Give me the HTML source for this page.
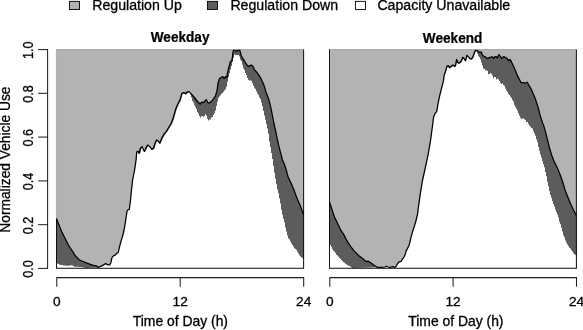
<!DOCTYPE html>
<html><head><meta charset="utf-8"><title>Normalized Vehicle Use</title>
<style>
html,body{margin:0;padding:0;background:#fff;}
body{width:583px;height:330px;overflow:hidden;}
svg{display:block;will-change:transform;filter:grayscale(1);}
text{font-family:"Liberation Sans",sans-serif;font-size:14.15px;fill:#000;stroke:#000;stroke-width:0.3px;}
.t{font-size:13.7px;}
.l{font-size:13.9px;}
.b{font-weight:bold;font-size:14.25px;stroke-width:0.25px;}
</style></head>
<body>
<svg width="583" height="330" viewBox="0 0 583 330">

<rect x="69.4" y="1.35" width="10.1" height="8.1" fill="#b3b3b3" stroke="#000" stroke-width="0.9"/>
<text x="92.2" y="10.4">Regulation Up</text>
<rect x="207.4" y="1.35" width="10.1" height="8.1" fill="#5c5c5c" stroke="#000" stroke-width="0.9"/>
<text x="230.4" y="10.4">Regulation Down</text>
<rect x="355.4" y="1.35" width="10.1" height="8.1" fill="#fff" stroke="#000" stroke-width="0.9"/>
<text x="377.4" y="10.4">Capacity Unavailable</text>

<text class="b" transform="translate(180.1,41.5) scale(0.955,1)" text-anchor="middle">Weekday</text>
<text class="b" transform="translate(452.6,42.6) scale(0.955,1)" text-anchor="middle">Weekend</text>
<rect x="56.5" y="49.4" width="247.1" height="218.9" fill="#b3b3b3"/>
<polygon fill="#5c5c5c" points="56.5,218.6 59.2,225.5 61.9,232.0 64.9,238.0 68.3,244.9 71.7,250.0 75.2,255.6 79.4,260.0 86.3,262.9 93.2,265.4 96.6,265.9 98.1,267.5 100.7,266.4 103.6,264.9 105.8,263.5 107.7,264.9 109.7,264.9 110.9,262.7 111.6,259.1 112.4,256.9 113.8,255.7 115.3,255.2 116.7,253.3 118.2,252.5 118.9,249.6 119.9,245.3 121.1,240.9 122.5,236.5 124.1,230.0 125.7,220.3 126.9,211.8 127.7,210.0 129.3,209.4 130.3,202.1 131.5,190.0 132.6,180.0 134.7,169.3 136.1,159.7 136.7,152.1 138.1,151.2 139.1,153.5 140.5,148.0 142.2,146.7 144.3,151.5 145.9,148.0 147.7,144.9 149.8,146.7 151.8,149.4 153.6,148.0 155.0,143.2 156.6,139.8 158.3,141.2 159.7,143.2 161.4,139.1 162.6,136.6 164.1,133.9 166.4,131.3 168.6,127.5 171.2,123.3 173.0,118.6 174.3,113.9 175.7,109.1 177.7,104.3 179.8,100.2 181.1,96.1 181.8,93.4 183.9,92.5 185.3,93.9 187.3,91.8 189.3,91.9 192.0,94.6 194.8,98.0 197.5,101.5 200.3,104.2 201.6,102.1 203.7,102.6 205.5,100.1 206.4,99.8 207.8,102.8 209.9,102.8 212.6,100.1 215.4,96.0 216.7,91.9 217.4,88.0 218.0,83.4 219.4,78.6 221.5,77.2 222.8,76.6 224.2,78.6 225.6,76.6 226.7,77.9 227.6,72.4 229.0,66.9 230.4,61.5 231.7,60.8 232.4,57.3 233.0,52.0 233.6,50.0 235.0,50.3 236.4,51.3 237.8,50.4 239.4,49.9 240.2,51.3 240.7,53.5 241.4,56.0 243.4,59.4 245.5,62.8 247.5,65.6 249.2,66.3 251.0,64.9 253.0,66.3 254.4,69.7 256.4,71.7 258.5,74.5 260.6,77.9 262.6,82.0 264.3,86.2 265.9,91.9 268.6,98.7 270.4,105.6 271.8,112.4 273.4,120.7 274.3,125.0 276.4,134.6 278.4,144.2 280.5,152.4 282.5,160.0 284.6,164.8 286.8,171.9 288.2,177.3 291.6,184.2 294.4,191.1 297.1,198.6 299.9,204.8 303.6,214.8 303.6,268.3 56.5,268.3"/>
<polygon fill="#fff" points="56.5,262.9 57.0,262.9 57.0,263.6 58.0,263.6 58.0,264.1 59.0,264.1 59.0,264.6 60.0,264.6 60.0,265.0 61.0,265.0 61.0,264.9 62.0,264.9 62.0,265.0 63.0,265.0 63.0,265.6 64.0,265.6 64.0,265.4 65.0,265.4 65.0,265.4 66.0,265.4 66.0,265.9 67.0,265.9 67.0,265.5 68.0,265.5 68.0,265.7 69.0,265.7 69.0,265.5 70.0,265.5 70.0,265.5 71.0,265.5 71.0,265.2 72.0,265.2 72.0,265.5 73.0,265.5 73.0,266.1 74.0,266.1 74.0,266.4 75.0,266.4 75.0,266.9 76.0,266.9 76.0,266.9 77.0,266.9 77.0,266.6 78.0,266.6 78.0,267.1 79.0,267.1 79.0,267.1 80.0,267.1 80.0,267.0 81.0,267.0 81.0,266.9 82.0,266.9 82.0,267.4 83.0,267.4 83.0,267.3 84.0,267.3 84.0,267.7 85.0,267.7 85.0,268.1 86.0,268.1 98.1,267.5 100.7,266.4 103.6,264.9 105.8,263.5 107.7,264.9 109.7,264.9 110.9,262.7 111.6,259.1 112.4,256.9 113.8,255.7 115.3,255.2 116.7,253.3 118.2,252.5 118.9,249.6 119.9,245.3 121.1,240.9 122.5,236.5 124.1,230.0 125.7,220.3 126.9,211.8 127.7,210.0 129.3,209.4 130.3,202.1 131.5,190.0 132.6,180.0 134.7,169.3 136.1,159.7 136.7,152.1 139.0,151.7 140.0,154.0 141.4,148.5 143.1,147.2 145.2,152.0 146.8,148.5 148.6,145.4 150.7,147.2 152.7,149.9 154.5,148.5 155.9,143.7 157.5,140.3 159.2,141.7 160.6,143.7 162.3,139.6 163.5,137.1 165.0,134.4 167.3,131.8 169.5,128.0 172.1,123.8 173.9,119.1 175.2,114.4 176.6,109.6 178.6,104.8 180.7,100.7 182.0,96.6 182.7,93.9 184.8,93.0 186.2,94.4 188.2,92.3 190.2,92.4 190.0,94.4 191.0,94.4 191.0,97.4 192.0,97.4 192.0,100.7 193.0,100.7 193.0,102.2 194.0,102.2 194.0,105.0 195.0,105.0 195.0,107.1 196.0,107.1 196.0,109.1 197.0,109.1 197.0,112.0 198.0,112.0 198.0,113.7 199.0,113.7 199.0,116.1 200.0,116.1 200.0,117.4 201.0,117.4 201.0,116.3 202.0,116.3 202.0,115.9 203.0,115.9 203.0,116.7 204.0,116.7 204.0,116.0 205.0,116.0 205.0,114.3 206.0,114.3 206.0,115.5 207.0,115.5 207.0,118.7 208.0,118.7 208.0,120.5 209.0,120.5 209.0,119.6 210.0,119.6 210.0,119.6 211.0,119.6 211.0,117.6 212.0,117.6 212.0,117.1 213.0,117.1 213.0,115.0 214.0,115.0 214.0,112.9 215.0,112.9 215.0,110.4 216.0,110.4 216.0,106.0 217.0,106.0 217.0,101.7 218.0,101.7 218.0,97.8 219.0,97.8 219.0,96.5 220.0,96.5 220.0,95.2 221.0,95.2 221.0,93.8 222.0,93.8 222.0,93.1 223.0,93.1 223.0,91.7 224.0,91.7 224.0,90.4 225.0,90.4 225.0,89.3 226.0,89.3 226.0,86.7 227.0,86.7 227.0,81.8 228.0,81.8 228.0,76.9 229.0,76.9 229.0,73.3 230.0,73.3 230.0,69.6 231.0,69.6 231.0,66.0 232.0,66.0 232.0,62.0 233.0,62.0 233.0,57.9 234.0,57.9 234.0,54.6 235.0,54.6 235.0,55.0 236.0,55.0 236.0,54.9 237.0,54.9 237.0,55.2 238.0,55.2 238.0,54.9 239.0,54.9 239.0,56.5 240.0,56.5 240.0,59.8 241.0,59.8 241.0,61.3 242.0,61.3 242.0,64.8 243.0,64.8 243.0,68.2 244.0,68.2 244.0,70.1 245.0,70.1 245.0,73.1 246.0,73.1 246.0,74.9 247.0,74.9 247.0,78.1 248.0,78.1 248.0,79.7 249.0,79.7 249.0,80.4 250.0,80.4 250.0,80.6 251.0,80.6 251.0,80.8 252.0,80.8 252.0,83.3 253.0,83.3 253.0,85.4 254.0,85.4 254.0,87.7 255.0,87.7 255.0,88.9 256.0,88.9 256.0,91.3 257.0,91.3 257.0,93.5 258.0,93.5 258.0,95.0 259.0,95.0 259.0,97.5 260.0,97.5 260.0,98.9 261.0,98.9 261.0,102.5 262.0,102.5 262.0,106.2 263.0,106.2 263.0,110.9 264.0,110.9 264.0,115.6 265.0,115.6 265.0,119.8 266.0,119.8 266.0,124.3 267.0,124.3 267.0,128.6 268.0,128.6 268.0,133.7 269.0,133.7 269.0,141.5 270.0,141.5 270.0,147.0 271.0,147.0 271.0,153.0 272.0,153.0 272.0,159.1 273.0,159.1 273.0,165.9 274.0,165.9 274.0,172.8 275.0,172.8 275.0,178.8 276.0,178.8 276.0,184.2 277.0,184.2 277.0,189.6 278.0,189.6 278.0,193.3 279.0,193.3 279.0,198.4 280.0,198.4 280.0,203.6 281.0,203.6 281.0,209.7 282.0,209.7 282.0,214.8 283.0,214.8 283.0,218.8 284.0,218.8 284.0,222.3 285.0,222.3 285.0,227.5 286.0,227.5 286.0,231.5 287.0,231.5 287.0,235.4 288.0,235.4 288.0,238.6 289.0,238.6 289.0,239.6 290.0,239.6 290.0,241.6 291.0,241.6 291.0,243.5 292.0,243.5 292.0,244.9 293.0,244.9 293.0,246.6 294.0,246.6 294.0,248.2 295.0,248.2 295.0,249.0 296.0,249.0 296.0,249.8 297.0,249.8 297.0,251.8 298.0,251.8 298.0,253.4 299.0,253.4 299.0,255.2 300.0,255.2 300.0,256.6 301.0,256.6 301.0,257.2 302.0,257.2 302.0,258.0 303.0,258.0 303.0,258.9 303.6,258.9 303.6,268.3 56.5,268.3"/>
<polyline fill="none" stroke="#000" stroke-width="1.25" stroke-linejoin="round" points="56.5,218.6 59.2,225.5 61.9,232.0 64.9,238.0 68.3,244.9 71.7,250.0 75.2,255.6 79.4,260.0 86.3,262.9 93.2,265.4 96.6,265.9 98.1,267.5 100.7,266.4 103.6,264.9 105.8,263.5 107.7,264.9 109.7,264.9 110.9,262.7 111.6,259.1 112.4,256.9 113.8,255.7 115.3,255.2 116.7,253.3 118.2,252.5 118.9,249.6 119.9,245.3 121.1,240.9 122.5,236.5 124.1,230.0 125.7,220.3 126.9,211.8 127.7,210.0 129.3,209.4 130.3,202.1 131.5,190.0 132.6,180.0 134.7,169.3 136.1,159.7 136.7,152.1 138.1,151.2 139.1,153.5 140.5,148.0 142.2,146.7 144.3,151.5 145.9,148.0 147.7,144.9 149.8,146.7 151.8,149.4 153.6,148.0 155.0,143.2 156.6,139.8 158.3,141.2 159.7,143.2 161.4,139.1 162.6,136.6 164.1,133.9 166.4,131.3 168.6,127.5 171.2,123.3 173.0,118.6 174.3,113.9 175.7,109.1 177.7,104.3 179.8,100.2 181.1,96.1 181.8,93.4 183.9,92.5 185.3,93.9 187.3,91.8 189.3,91.9 192.0,94.6 194.8,98.0 197.5,101.5 200.3,104.2 201.6,102.1 203.7,102.6 205.5,100.1 206.4,99.8 207.8,102.8 209.9,102.8 212.6,100.1 215.4,96.0 216.7,91.9 217.4,88.0 218.0,83.4 219.4,78.6 221.5,77.2 222.8,76.6 224.2,78.6 225.6,76.6 226.7,77.9 227.6,72.4 229.0,66.9 230.4,61.5 231.7,60.8 232.4,57.3 233.0,52.0 233.6,50.0 235.0,50.3 236.4,51.3 237.8,50.4 239.4,49.9 240.2,51.3 240.7,53.5 241.4,56.0 243.4,59.4 245.5,62.8 247.5,65.6 249.2,66.3 251.0,64.9 253.0,66.3 254.4,69.7 256.4,71.7 258.5,74.5 260.6,77.9 262.6,82.0 264.3,86.2 265.9,91.9 268.6,98.7 270.4,105.6 271.8,112.4 273.4,120.7 274.3,125.0 276.4,134.6 278.4,144.2 280.5,152.4 282.5,160.0 284.6,164.8 286.8,171.9 288.2,177.3 291.6,184.2 294.4,191.1 297.1,198.6 299.9,204.8 303.6,214.8"/>
<path d="M56.5,49.55 H303.6" fill="none" stroke="#8c8c8c" stroke-width="0.6"/>
<path d="M303.6,49.4 V268.3 H56.1" fill="none" stroke="#000" stroke-opacity="0.9" stroke-width="1.05"/>
<path d="M56.4,49.4 V218.6" fill="none" stroke="#8c8c8c" stroke-width="0.6"/>
<path d="M56.5,218.6 V268.3" fill="none" stroke="#000" stroke-opacity="0.9" stroke-width="1.0"/>
<rect x="329.5" y="49.4" width="246.9" height="218.9" fill="#b3b3b3"/>
<polygon fill="#5c5c5c" points="329.5,202.0 331.9,209.2 334.6,217.4 338.0,224.3 340.8,230.2 343.5,234.1 346.3,239.6 349.7,245.1 353.8,250.6 357.9,254.7 359.9,256.6 362.6,258.4 365.9,261.5 368.0,261.1 371.4,263.2 374.0,265.3 377.4,267.3 381.7,267.4 385.2,267.0 386.4,266.2 388.2,267.0 390.3,267.4 392.9,266.6 394.6,267.4 395.9,266.8 397.6,263.6 398.9,261.9 401.0,261.4 402.7,258.9 404.4,256.3 405.7,252.9 406.2,250.7 407.5,248.6 408.7,246.0 409.7,243.1 411.1,236.9 413.1,230.1 415.5,222.5 417.4,215.0 419.0,202.9 420.8,190.6 422.4,181.0 424.5,171.5 428.0,155.2 430.6,140.1 432.6,125.0 433.6,117.0 435.0,113.6 436.7,111.6 438.1,103.3 439.5,96.5 441.6,88.2 443.5,80.7 444.2,75.2 445.6,71.1 446.9,66.3 448.3,65.6 449.4,67.6 451.1,66.3 453.1,64.9 454.5,66.3 455.5,65.6 456.6,59.4 457.9,62.8 459.3,62.8 461.4,60.8 462.7,57.3 464.1,58.7 465.5,60.8 466.8,55.3 468.2,56.7 470.0,58.7 471.6,58.7 473.0,56.7 474.4,52.5 475.5,50.2 477.1,50.5 478.5,51.6 479.9,52.5 481.2,51.9 482.6,55.3 484.3,56.7 486.0,57.3 487.8,58.7 489.5,57.3 490.8,57.3 492.2,56.7 493.6,58.7 495.0,56.7 496.3,56.7 497.4,58.0 498.9,54.6 500.4,56.3 501.8,58.7 503.6,56.7 505.3,57.3 507.3,58.7 508.7,60.8 510.1,59.4 511.5,62.1 513.5,66.3 515.6,71.1 517.6,75.9 519.7,80.0 521.1,82.7 523.1,82.7 525.2,83.4 527.2,82.0 528.6,84.8 530.4,87.5 531.8,90.5 535.3,98.7 538.0,106.9 540.1,115.2 542.8,123.4 543.5,125.0 545.5,131.9 547.6,140.1 549.6,148.3 551.7,155.2 553.8,160.7 556.5,166.2 557.9,169.1 560.6,176.0 563.4,184.2 565.4,191.1 568.2,197.9 570.9,204.5 573.6,210.3 576.4,215.5 576.4,268.3 329.5,268.3"/>
<polygon fill="#fff" points="329.5,243.4 330.0,243.4 330.0,245.1 331.0,245.1 331.0,247.1 332.0,247.1 332.0,249.0 333.0,249.0 333.0,250.7 334.0,250.7 334.0,251.6 335.0,251.6 335.0,252.9 336.0,252.9 336.0,254.7 337.0,254.7 337.0,255.5 338.0,255.5 338.0,256.4 339.0,256.4 339.0,257.9 340.0,257.9 340.0,258.7 341.0,258.7 341.0,260.1 342.0,260.1 342.0,261.0 343.0,261.0 343.0,262.3 344.0,262.3 344.0,262.7 345.0,262.7 345.0,263.7 346.0,263.7 346.0,264.6 347.0,264.6 347.0,265.0 348.0,265.0 348.0,265.7 349.0,265.7 349.0,266.2 350.0,266.2 350.0,266.4 351.0,266.4 351.0,267.5 352.0,267.5 352.0,268.0 353.0,268.0 395.9,266.8 397.6,263.6 398.9,261.9 401.0,261.4 402.7,258.9 404.4,256.3 405.7,252.9 406.2,250.7 407.5,248.6 408.7,246.0 409.7,243.1 411.1,236.9 413.1,230.1 415.5,222.5 417.4,215.0 419.0,202.9 420.8,190.6 422.4,181.0 424.5,171.5 428.0,155.2 430.6,140.1 432.6,125.0 433.6,117.0 435.0,113.6 436.7,111.6 438.1,103.3 439.5,96.5 441.6,88.2 443.5,80.7 444.2,75.2 446.0,72.1 447.3,67.3 448.7,66.6 449.8,68.6 451.5,67.3 453.5,65.9 454.9,67.3 455.9,66.6 457.0,60.4 458.3,63.8 459.7,63.8 461.8,61.8 463.1,58.3 464.5,59.7 465.9,61.8 467.2,56.3 468.6,57.7 470.4,59.7 472.0,59.7 473.4,57.7 474.8,53.5 475.9,51.2 476.0,51.5 477.0,51.5 477.0,53.6 478.0,53.6 478.0,56.3 479.0,56.3 479.0,57.2 480.0,57.2 480.0,59.3 481.0,59.3 481.0,62.6 482.0,62.6 482.0,65.4 483.0,65.4 483.0,68.5 484.0,68.5 484.0,68.9 485.0,68.9 485.0,70.4 486.0,70.4 486.0,70.3 487.0,70.3 487.0,70.9 488.0,70.9 488.0,74.3 489.0,74.3 489.0,74.0 490.0,74.0 490.0,72.9 491.0,72.9 491.0,73.7 492.0,73.7 492.0,75.4 493.0,75.4 493.0,78.2 494.0,78.2 494.0,76.9 495.0,76.9 495.0,77.0 496.0,77.0 496.0,79.6 497.0,79.6 497.0,78.4 498.0,78.4 498.0,79.5 499.0,79.5 499.0,81.1 500.0,81.1 500.0,83.0 501.0,83.0 501.0,84.0 502.0,84.0 502.0,83.2 503.0,83.2 503.0,85.1 504.0,85.1 504.0,85.7 505.0,85.7 505.0,88.5 506.0,88.5 506.0,90.5 507.0,90.5 507.0,92.0 508.0,92.0 508.0,94.0 509.0,94.0 509.0,95.0 510.0,95.0 510.0,96.6 511.0,96.6 511.0,98.1 512.0,98.1 512.0,100.0 513.0,100.0 513.0,101.4 514.0,101.4 514.0,104.7 515.0,104.7 515.0,107.1 516.0,107.1 516.0,108.7 517.0,108.7 517.0,110.4 518.0,110.4 518.0,113.3 519.0,113.3 519.0,115.4 520.0,115.4 520.0,117.8 521.0,117.8 521.0,119.1 522.0,119.1 522.0,118.5 523.0,118.5 523.0,118.4 524.0,118.4 524.0,119.3 525.0,119.3 525.0,120.1 526.0,120.1 526.0,122.1 527.0,122.1 527.0,122.0 528.0,122.0 528.0,123.9 529.0,123.9 529.0,126.0 530.0,126.0 530.0,126.5 531.0,126.5 531.0,128.0 532.0,128.0 532.0,128.5 533.0,128.5 533.0,131.3 534.0,131.3 534.0,133.5 535.0,133.5 535.0,135.7 536.0,135.7 536.0,139.3 537.0,139.3 537.0,142.1 538.0,142.1 538.0,146.8 539.0,146.8 539.0,150.7 540.0,150.7 540.0,154.5 541.0,154.5 541.0,157.5 542.0,157.5 542.0,160.9 543.0,160.9 543.0,164.2 544.0,164.2 544.0,167.3 545.0,167.3 545.0,172.1 546.0,172.1 546.0,176.2 547.0,176.2 547.0,181.7 548.0,181.7 548.0,186.2 549.0,186.2 549.0,191.0 550.0,191.0 550.0,194.9 551.0,194.9 551.0,197.8 552.0,197.8 552.0,200.9 553.0,200.9 553.0,204.1 554.0,204.1 554.0,206.2 555.0,206.2 555.0,209.6 556.0,209.6 556.0,211.9 557.0,211.9 557.0,214.5 558.0,214.5 558.0,217.5 559.0,217.5 559.0,221.8 560.0,221.8 560.0,224.3 561.0,224.3 561.0,227.8 562.0,227.8 562.0,231.3 563.0,231.3 563.0,235.3 564.0,235.3 564.0,237.4 565.0,237.4 565.0,240.4 566.0,240.4 566.0,242.7 567.0,242.7 567.0,244.6 568.0,244.6 568.0,246.1 569.0,246.1 569.0,247.7 570.0,247.7 570.0,248.5 571.0,248.5 571.0,250.2 572.0,250.2 572.0,251.4 573.0,251.4 573.0,253.2 574.0,253.2 574.0,254.5 575.0,254.5 575.0,254.7 576.0,254.7 576.0,255.6 576.4,255.6 576.4,268.3 329.5,268.3"/>
<polyline fill="none" stroke="#000" stroke-width="1.25" stroke-linejoin="round" points="329.5,202.0 331.9,209.2 334.6,217.4 338.0,224.3 340.8,230.2 343.5,234.1 346.3,239.6 349.7,245.1 353.8,250.6 357.9,254.7 359.9,256.6 362.6,258.4 365.9,261.5 368.0,261.1 371.4,263.2 374.0,265.3 377.4,267.3 381.7,267.4 385.2,267.0 386.4,266.2 388.2,267.0 390.3,267.4 392.9,266.6 394.6,267.4 395.9,266.8 397.6,263.6 398.9,261.9 401.0,261.4 402.7,258.9 404.4,256.3 405.7,252.9 406.2,250.7 407.5,248.6 408.7,246.0 409.7,243.1 411.1,236.9 413.1,230.1 415.5,222.5 417.4,215.0 419.0,202.9 420.8,190.6 422.4,181.0 424.5,171.5 428.0,155.2 430.6,140.1 432.6,125.0 433.6,117.0 435.0,113.6 436.7,111.6 438.1,103.3 439.5,96.5 441.6,88.2 443.5,80.7 444.2,75.2 445.6,71.1 446.9,66.3 448.3,65.6 449.4,67.6 451.1,66.3 453.1,64.9 454.5,66.3 455.5,65.6 456.6,59.4 457.9,62.8 459.3,62.8 461.4,60.8 462.7,57.3 464.1,58.7 465.5,60.8 466.8,55.3 468.2,56.7 470.0,58.7 471.6,58.7 473.0,56.7 474.4,52.5 475.5,50.2 477.1,50.5 478.5,51.6 479.9,52.5 481.2,51.9 482.6,55.3 484.3,56.7 486.0,57.3 487.8,58.7 489.5,57.3 490.8,57.3 492.2,56.7 493.6,58.7 495.0,56.7 496.3,56.7 497.4,58.0 498.9,54.6 500.4,56.3 501.8,58.7 503.6,56.7 505.3,57.3 507.3,58.7 508.7,60.8 510.1,59.4 511.5,62.1 513.5,66.3 515.6,71.1 517.6,75.9 519.7,80.0 521.1,82.7 523.1,82.7 525.2,83.4 527.2,82.0 528.6,84.8 530.4,87.5 531.8,90.5 535.3,98.7 538.0,106.9 540.1,115.2 542.8,123.4 543.5,125.0 545.5,131.9 547.6,140.1 549.6,148.3 551.7,155.2 553.8,160.7 556.5,166.2 557.9,169.1 560.6,176.0 563.4,184.2 565.4,191.1 568.2,197.9 570.9,204.5 573.6,210.3 576.4,215.5"/>
<path d="M329.5,49.55 H576.4" fill="none" stroke="#8c8c8c" stroke-width="0.6"/>
<path d="M576.4,49.4 V268.3 H329.1" fill="none" stroke="#000" stroke-opacity="0.9" stroke-width="1.05"/>
<path d="M329.5,49.4 V268.3" fill="none" stroke="#000" stroke-opacity="0.9" stroke-width="1.0"/>
<path d="M47.6,48.9 V268.8" fill="none" stroke="#000" stroke-opacity="0.88" stroke-width="1.05"/>
<path d="M38.1,268.4 H47.6" stroke="#000" stroke-opacity="0.88" stroke-width="1.05"/>
<text class="t" transform="translate(32.9,269.1) rotate(-90) scale(0.92,1.05)" text-anchor="middle">0.0</text>
<path d="M38.1,224.7 H47.6" stroke="#000" stroke-opacity="0.88" stroke-width="1.05"/>
<text class="t" transform="translate(32.9,225.4) rotate(-90) scale(0.92,1.05)" text-anchor="middle">0.2</text>
<path d="M38.1,180.9 H47.6" stroke="#000" stroke-opacity="0.88" stroke-width="1.05"/>
<text class="t" transform="translate(32.9,181.6) rotate(-90) scale(0.92,1.05)" text-anchor="middle">0.4</text>
<path d="M38.1,137.1 H47.6" stroke="#000" stroke-opacity="0.88" stroke-width="1.05"/>
<text class="t" transform="translate(32.9,137.8) rotate(-90) scale(0.92,1.05)" text-anchor="middle">0.6</text>
<path d="M38.1,93.3 H47.6" stroke="#000" stroke-opacity="0.88" stroke-width="1.05"/>
<text class="t" transform="translate(32.9,94.0) rotate(-90) scale(0.92,1.05)" text-anchor="middle">0.8</text>
<path d="M38.1,49.6 H47.6" stroke="#000" stroke-opacity="0.88" stroke-width="1.05"/>
<text class="t" transform="translate(32.9,50.3) rotate(-90) scale(0.92,1.05)" text-anchor="middle">1.0</text>
<text class="l" transform="translate(10.1,159.6) rotate(-90) scale(0.992,1.04)" text-anchor="middle">Normalized Vehicle Use</text>
<path d="M56.8,286.8 V277.6 H303.7 V286.8 M180.2,277.6 V286.8" fill="none" stroke="#000" stroke-opacity="0.88" stroke-width="1.05"/>
<text class="t" x="56.8" y="305.6" text-anchor="middle">0</text>
<text class="t" x="180.2" y="305.6" text-anchor="middle">12</text>
<text class="t" x="303.7" y="305.6" text-anchor="middle">24</text>
<text class="l" x="180.4" y="325.7" text-anchor="middle">Time of Day (h)</text>
<path d="M329.8,286.8 V277.6 H576.5 V286.8 M453.1,277.6 V286.8" fill="none" stroke="#000" stroke-opacity="0.88" stroke-width="1.05"/>
<text class="t" x="329.8" y="305.6" text-anchor="middle">0</text>
<text class="t" x="453.1" y="305.6" text-anchor="middle">12</text>
<text class="t" x="576.5" y="305.6" text-anchor="middle">24</text>
<text class="l" x="455.9" y="326.3" text-anchor="middle">Time of Day (h)</text>
</svg>
</body></html>
